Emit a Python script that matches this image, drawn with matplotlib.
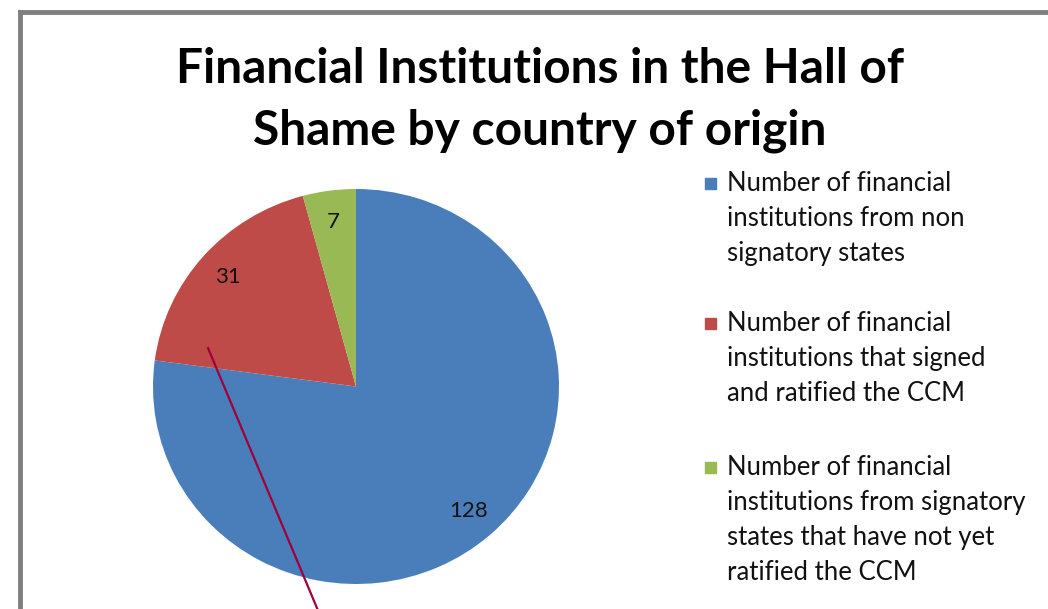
"""
Hall of Shame pie chart: financial institutions by country of origin.

    python3 plot.py   # writes out.png
"""

import matplotlib

matplotlib.use("Agg")

import matplotlib.pyplot as plt
from matplotlib.lines import Line2D
from matplotlib.patches import Rectangle

W, H = 1048, 609
DPI = 100

TITLE = "Financial Institutions in the Hall of\nShame by country of origin"

COUNTS = [128, 31, 7]
LABELS = [
    "Number of financial\ninstitutions from non\nsignatory states",
    "Number of financial\ninstitutions that signed\nand ratified the CCM",
    "Number of financial\ninstitutions from signatory\nstates that have not yet\nratified the CCM",
]
COLORS = ["#4a7ebb", "#be4b48", "#98b954"]

FONT = ["Lato", "DejaVu Sans"]


def px(x, y):
    """pixel (from top-left) -> figure fraction"""
    return x / W, 1 - y / H


def main() -> None:
    fig = plt.figure(figsize=(W / DPI, H / DPI), dpi=DPI)
    fig.patch.set_facecolor("white")

    # outer chart frame (only left and top edges are visible in the crop)
    frame_kw = dict(color="#7f7f7f", linewidth=3.5, transform=fig.transFigure)
    fig.add_artist(Line2D([px(20, 0)[0]] * 2, [px(0, 12)[1], 0], **frame_kw))
    fig.add_artist(Line2D([px(20, 0)[0], 1], [px(0, 12)[1]] * 2, **frame_kw))

    fig.text(
        *px(540, 100), TITLE, ha="center", va="center",
        fontsize=34.5, fontweight="bold", family=FONT, linespacing=1.5,
    )

    # pie: slightly wider than tall, like the source screenshot
    cx, cy, rx, ry = 356, 386.5, 203, 197.5
    left, bottom = px(cx - rx, cy + ry)
    ax = fig.add_axes([left, bottom, 2 * rx / W, 2 * ry / H])
    ax.pie(
        COUNTS,
        colors=COLORS,
        startangle=90,
        counterclock=False,
        labels=[str(c) for c in COUNTS],
        labeldistance=0.84,
        textprops=dict(fontsize=16, family=FONT, color="#111111", ha="center", va="center"),
        wedgeprops=dict(linewidth=0),
    )
    ax.set_xlim(-1, 1)
    ax.set_ylim(-1, 1)
    ax.set_aspect("auto")
    ax.axis("off")

    # legend, squares aligned with the first line of each entry
    starts = [183, 323, 467]
    for label, color, y in zip(LABELS, COLORS, starts):
        fig.add_artist(Rectangle(px(705, y + 6), 11 / W, 11 / H, color=color,
                                 transform=fig.transFigure))
        fig.text(*px(727, y - 12), label, ha="left", va="top", fontsize=18.5,
                 family=FONT, color="#111111", linespacing=1.5)

    # stray annotation line
    fig.add_artist(Line2D([px(208, 348)[0], px(322, 620)[0]],
                          [px(208, 348)[1], px(322, 620)[1]],
                          color="#a0003a", linewidth=1.6, transform=fig.transFigure))

    fig.savefig("out.png", dpi=DPI)


if __name__ == "__main__":
    main()
